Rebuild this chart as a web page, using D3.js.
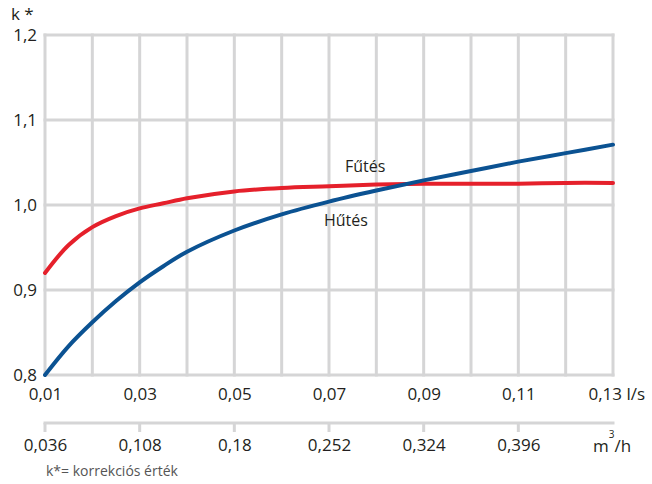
<!DOCTYPE html>
<html>
<head>
<meta charset="utf-8">
<script src="https://cdn.jsdelivr.net/npm/d3@7"></script>
<style>
  html, body { margin: 0; padding: 0; background: #fff; }
  svg { display: block; }
  text { font-family: "Open Sans", "Noto Sans", sans-serif; fill: #231f20; }
</style>
</head>
<body>
<svg id="chart" width="652" height="484"></svg>
<script>
// ---- data ----
const flowLs = [0.01, 0.015, 0.02, 0.025, 0.03, 0.035, 0.04, 0.05, 0.06, 0.07, 0.08, 0.09, 0.10, 0.11, 0.12, 0.13];
const heating = [0.920, 0.953, 0.974, 0.987, 0.996, 1.002, 1.008, 1.016, 1.020, 1.022, 1.024, 1.025, 1.025, 1.025, 1.026, 1.026];
const cooling = [0.800, 0.834, 0.862, 0.887, 0.909, 0.928, 0.945, 0.970, 0.989, 1.004, 1.017, 1.029, 1.040, 1.051, 1.061, 1.071];
const seriesNames = ["Fűtés", "Hűtés"];
const gridX = [0.01, 0.02, 0.03, 0.04, 0.05, 0.06, 0.07, 0.08, 0.09, 0.10, 0.11, 0.12, 0.13];
const xTicks = [0.01, 0.03, 0.05, 0.07, 0.09, 0.11, 0.13];
const xTickLabels = ["0,01", "0,03", "0,05", "0,07", "0,09", "0,11", "0,13 l/s"];
const yTicks = [0.8, 0.9, 1.0, 1.1, 1.2];
const yTickLabels = ["0,8", "0,9", "1,0", "1,1", "1,2"];
const x2Ticks = [0.036, 0.108, 0.18, 0.252, 0.324, 0.396];
const x2TickLabels = ["0,036", "0,108", "0,18", "0,252", "0,324", "0,396"];
const yTitle = "k *";
const footnote = "k*= korrekciós érték";

// ---- layout ----
const svg = d3.select("#chart");
const pL = 45, pR = 613, pT = 35, pB = 375;
const x = d3.scaleLinear().domain([0.01, 0.13]).range([pL, pR]);
const y = d3.scaleLinear().domain([0.8, 1.2]).range([pB, pT]);
const x2 = d3.scaleLinear().domain([0.036, 0.468]).range([pL, pR]);
const gridColor = "#d5d5d6";

// grid
const g = svg.append("g");
g.selectAll("line.v").data(gridX).join("line")
  .attr("x1", d => x(d)).attr("x2", d => x(d))
  .attr("y1", pT - 1.5).attr("y2", pB + 1.5)
  .attr("stroke", gridColor).attr("stroke-width", 3);
g.selectAll("line.h").data(yTicks).join("line")
  .attr("x1", pL - 1.5).attr("x2", pR + 1.5)
  .attr("y1", d => y(d)).attr("y2", d => y(d))
  .attr("stroke", gridColor).attr("stroke-width", 3);

// y axis labels
const yAxis = d3.axisLeft(y).tickValues(yTicks).tickSize(0).tickPadding(0)
  .tickFormat((d, i) => yTickLabels[i]);
const ya = svg.append("g").attr("transform", `translate(${pL - 8},0)`).call(yAxis);
ya.select(".domain").remove();
ya.selectAll("text").style("font-size", "17px").attr("fill", "#231f20")
  .style("font-family", "'Open Sans', sans-serif");

// y title
svg.append("text").attr("x", 11).attr("y", 20).style("font-size", "17px").text(yTitle);

// x axis labels (l/s)
const xAxis = d3.axisBottom(x).tickValues(xTicks).tickSize(0).tickPadding(0)
  .tickFormat((d, i) => xTickLabels[i]);
const xa = svg.append("g").attr("transform", `translate(0,${pB + 13})`).call(xAxis);
xa.select(".domain").remove();
xa.selectAll("text").style("font-size", "17px").attr("fill", "#231f20")
  .style("font-family", "'Open Sans', sans-serif");
xa.selectAll("text").filter((d, i) => i === xTicks.length - 1)
  .attr("text-anchor", "start").attr("x", -25);

// second x axis (m3/h)
const axisY2 = 423;
svg.append("line").attr("x1", pL - 1.5).attr("x2", pR + 1.5)
  .attr("y1", axisY2).attr("y2", axisY2)
  .attr("stroke", gridColor).attr("stroke-width", 3);
svg.selectAll("line.t2").data(x2Ticks).join("line")
  .attr("x1", d => x2(d)).attr("x2", d => x2(d))
  .attr("y1", axisY2).attr("y2", axisY2 + 9)
  .attr("stroke", gridColor).attr("stroke-width", 3);
const x2Axis = d3.axisBottom(x2).tickValues(x2Ticks).tickSize(0).tickPadding(0)
  .tickFormat((d, i) => x2TickLabels[i]);
const xb = svg.append("g").attr("transform", `translate(0,${axisY2 + 16})`).call(x2Axis);
xb.select(".domain").remove();
xb.selectAll("text").style("font-size", "17px").attr("fill", "#231f20")
  .style("font-family", "'Open Sans', sans-serif");

const unit = svg.append("text").attr("x", 593).attr("y", 452).style("font-size", "17px");
unit.append("tspan").text("m");
unit.append("tspan").attr("dy", -14).style("font-size", "10px").text("3");
unit.append("tspan").attr("dy", 14).text("/h");

// footnote
svg.append("text").attr("x", 46).attr("y", 476).style("font-size", "14px")
  .style("fill", "#555").text(footnote);

// curves
const line = d3.line().curve(d3.curveCatmullRom.alpha(0.5));
const series = [
  { name: seriesNames[0], values: heating, color: "#e5202b" },
  { name: seriesNames[1], values: cooling, color: "#0b5292" }
];
svg.selectAll("path.curve").data(series).join("path")
  .attr("class", "curve")
  .attr("fill", "none")
  .attr("stroke", d => d.color)
  .attr("stroke-width", 4)
  .attr("stroke-linecap", "round")
  .attr("d", d => line(flowLs.map((f, i) => [x(f), y(d.values[i])])));

// series labels
svg.append("text").attr("x", 345).attr("y", 172).style("font-size", "16px").text(seriesNames[0]);
svg.append("text").attr("x", 324).attr("y", 226).style("font-size", "16px").text(seriesNames[1]);
</script>
</body>
</html>
